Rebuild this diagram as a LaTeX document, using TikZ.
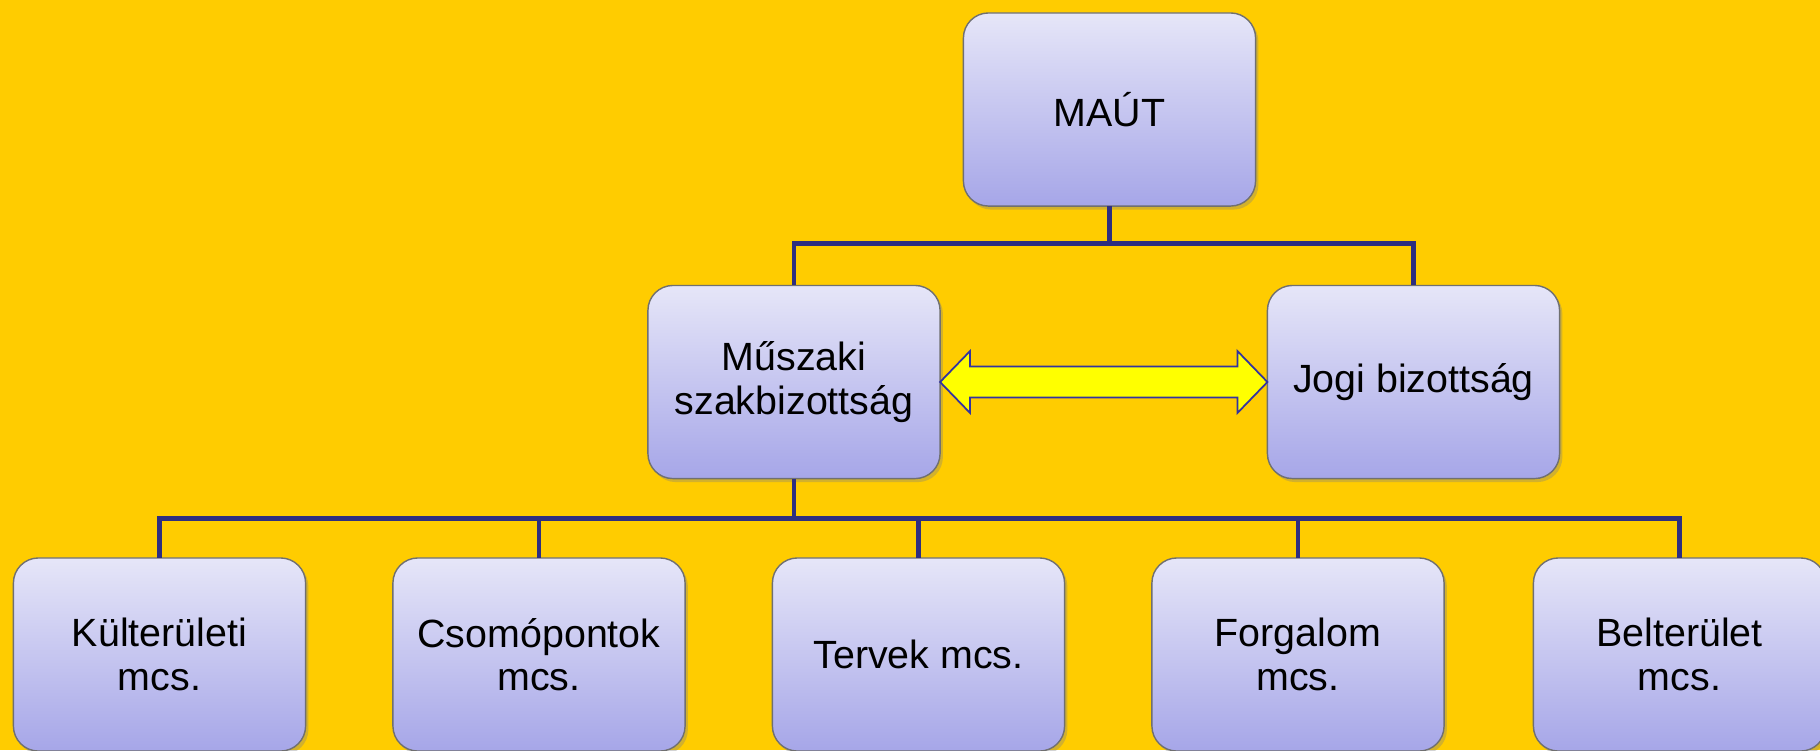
\documentclass[tikz,border=0pt]{standalone}
\usepackage{fontspec}
\setmainfont{Liberation Sans}
\usetikzlibrary{calc, positioning, shadows}

\definecolor{bg}{HTML}{FFCC00}
\definecolor{boxtop}{HTML}{E6E6F8}
\definecolor{boxbot}{HTML}{A6A6E8}
\definecolor{boxline}{HTML}{707070}
\definecolor{navy}{HTML}{2E2E80}
\definecolor{arrowfill}{HTML}{FFFF00}
\definecolor{arrowline}{HTML}{3333A0}

\begin{document}
\begin{tikzpicture}[x=0.01cm, y=-0.01cm]
	\tikzstyle{format} = [draw=boxline, line width=0.4pt, rounded corners=0.25cm, top color=boxtop, bottom color=boxbot, minimum width=2.92cm, minimum height=1.93cm, inner sep=0pt, outer sep=0pt, align=center, font=\fontsize{11.2}{12.3}\selectfont, drop shadow={shadow xshift=0.8pt, shadow yshift=-1pt, opacity=0.35}]
	\tikzstyle{conn} = [draw=navy, line width=1.4pt]
	\tikzstyle{bigarrow} = [draw=arrowline, fill=arrowfill, line width=0.5pt]

	\fill[bg] (0,0) rectangle (1820,750);
	\clip (0,0) rectangle (1820,750);

	% top and middle level
	\node[format] (1) at (1109.5,109.5) {MAÚT};
	\node[format] (2) at (794,382) {Műszaki\\szakbizottság};
	\node[format] (3) at (1413.5,382) {Jogi bizottság};

	% working groups
	\node[format] (4) at (159.5,654.5) {Külterületi\\mcs.};
	\node[format] (5) at (539,654.5) {Csomópontok\\mcs.};
	\node[format] (6) at (918.5,654.5) {Tervek mcs.};
	\node[format] (7) at (1298,654.5) {Forgalom\\mcs.};
	\node[format] (8) at (1679.5,654.5) {Belterület\\mcs.};

	\draw[conn] (1.south) -- ++(0,37) coordinate (t);
	\draw[conn] (t) -| (2.north);
	\draw[conn] (t) -| (3.north);

	\draw[conn] (2.south) -- ++(0,40) coordinate (b);
	\draw[conn] (b) -| (4.north);
	\draw[conn] (b) -| (5.north);
	\draw[conn] (b) -| (6.north);
	\draw[conn] (b) -| (7.north);
	\draw[conn] (b) -| (8.north);

	% double block arrow between the two committees
	\draw[bigarrow] (2.east) -- ($(2.east)+(30,-31)$) -- ($(2.east)+(30,-15.5)$)
		-- ($(3.west)+(-30,-15.5)$) -- ($(3.west)+(-30,-31)$) -- (3.west)
		-- ($(3.west)+(-30,31)$) -- ($(3.west)+(-30,15.5)$)
		-- ($(2.east)+(30,15.5)$) -- ($(2.east)+(30,31)$) -- cycle;
\end{tikzpicture}
\end{document}
